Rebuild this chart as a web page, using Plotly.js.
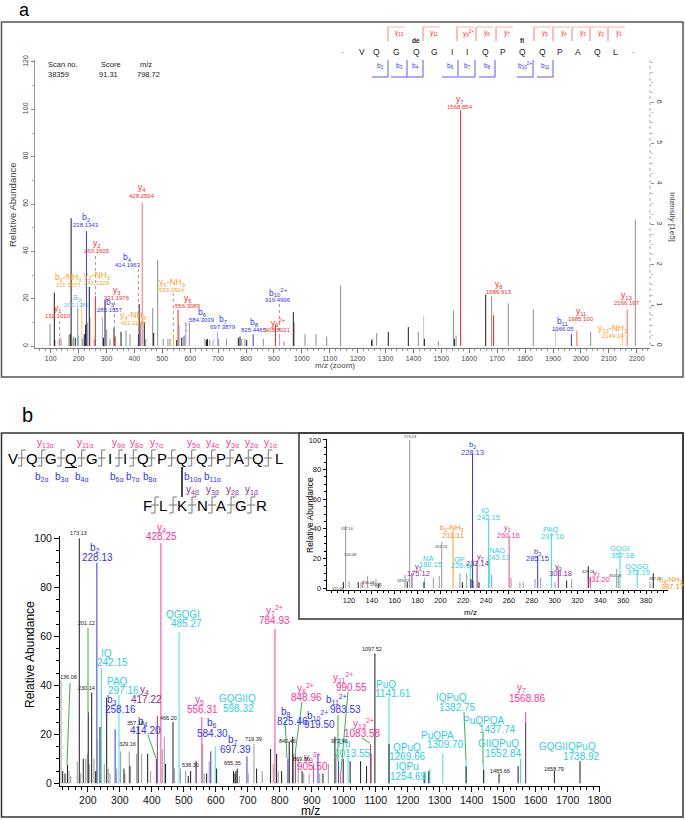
<!DOCTYPE html>
<html><head><meta charset="utf-8">
<script src="https://cdn.plot.ly/plotly-3.0.1.min.js"></script>
<style>html,body{margin:0;padding:0;background:#fff}#chart{width:685px;height:820px}</style>
</head><body><div id="chart"></div>
<script>
const W=685,H=820;
// ---------- panel a data ----------
const aMz=[97.5,112.9,114.5,130.8,133.5,136,139,165.6,170.2,173.13,178,181,188,196.8,200.14,211.1,214.7,220.4,225,228.13,231.2,238.3,243.13,256,260.16,285.16,289,294.6,300.7,312.5,326.9,331.2,352,369.8,384,414.2,417,422.5,428.25,435.4,440.4,465.5,469,483.4,503.5,520,527.5,539.28,551.5,556.31,559.5,569.4,575,580,584.3,596.7,653,658,662,670,680,685,697.39,702,730,772.3,778.3,784.4,796.3,802.3,825.45,861.8,905.5,919.5,936,969.3,972.5,1011.3,1050.7,1089,1139,1250,1252.5,1268,1309.8,1381.5,1417.3,1436.5,1439,1489,1543,1546.5,1552.6,1568.85,1658.7,1680,1686.9,1739.8,1829.4,1909.5,1966.05,1985.1,2035,2149.14,2166.17,2194.9];
const aInt=[9.3,22.5,2.5,3,4,3.5,2.5,5,5,54,3,4,3.5,16,4.5,20,3,5,9,48.5,10,25,12,3,21,12,3.5,19.5,7,3,7.8,4,6,6.5,5,5,17.7,10,60.5,10,3,16,5.5,36.3,3,3,3,5,2.5,15.3,9,3.5,4,4.5,10,10,3,2.5,3,2.5,2,3,6,3,3,3.5,4,3,3,2.5,5,3,9,4,2,14.3,10,5,5,4,25.5,2.5,3,5.5,6,8,6,12.8,3,2,15,3,4.5,99.6,21.7,21,13,18,15.5,7,5,6.5,6,6,15.5,53.4];
const aKind=['g','k','k','y','lg','lg','lg','g','k','k','lg','g','k','g','a','nl','g','k','k','b','g','k','nl','g','y','bl','k','k','g','g','k','y','k','g','g','b','k','g','yl','k','g','g','k','g','g','g','g','n','k','y','g','k','g','g','bl','g','g','k','k','g','lg','lg','bl','g','g','k','k','g','g','k','b','g','y','bl','g','k','g','g','g','g','g','k','g','g','k','k','g','lg','k','g','g','k','g','y','k','g','y','g','g','lg','b','yl','g','nl','yl','g'];
const seqA="-VQGQGIIQPQQPAQL-";
const yIonsA=['y<sub>13</sub>','y<sub>11</sub>','y<sub>9</sub><sup>2+</sup>','y<sub>8</sub>','y<sub>7</sub>','y<sub>5</sub>','y<sub>4</sub>','y<sub>3</sub>','y<sub>2</sub>','y<sub>1</sub>'];
const bIonsA=['b<sub>2</sub>','b<sub>3</sub>','b<sub>4</sub>','b<sub>6</sub>','b<sub>7</sub>','b<sub>8</sub>','b<sub>10</sub><sup>2+</sup>','b<sub>11</sub>'];
const aIonName=['y<sub>1</sub>','b<sub>2</sub>-NH<sub>3</sub>','a<sub>2</sub>','b<sub>2</sub>','y<sub>2</sub>-NH<sub>3</sub>','y<sub>2</sub>','y<sub>3</sub>','b<sub>3</sub>','b<sub>4</sub>','y<sub>4</sub>-NH<sub>3</sub>','y<sub>4</sub>','y<sub>5</sub>-NH<sub>3</sub>','y<sub>5</sub>','b<sub>6</sub>','b<sub>7</sub>','b<sub>8</sub>','b<sub>10</sub><sup>2+</sup>','y<sub>9</sub><sup>2+</sup>','y<sub>7</sub>','y<sub>8</sub>','b<sub>11</sub>','y<sub>11</sub>','y<sub>13</sub>-NH<sub>3</sub>','y<sub>13</sub>'];
const aIonMz=['132.1010','211.1077','200.1381','228.1343','243.1329','260.1605','331.1976','285.1557','414.1963','411.2238','428.2504','539.2824','556.3089','584.3039','697.3879','825.4465','919.4996','905.5021','1568.854','1686.913','1966.05','1985.100','2149.14','2166.167'];
const aIonType=['y','n','a','b','n','y','y','b','b','n','y','n','y','b','b','b','b','y','y','y','b','y','n','y'];
// ---------- panel b main data ----------
const bMz=[116,121.2,128.4,136.08,141,146.3,166.9,173.13,177.5,185.6,193.1,198.1,201.12,204.4,211.9,219.1,224.4,228.13,230.6,237.8,242.15,251.3,258.8,263.8,269.1,285.16,290,297.16,302.4,312.8,316,329.16,331.6,352.5,357.18,368.2,387,396.3,414.2,417.22,428.25,432.6,439,443,466.2,471,485.27,490,505.7,514,521.3,538.3,556.31,559,563.5,571.4,579.5,584.3,598.32,602.6,655.35,660,663,667,673.3,697.39,701.4,719.39,727.6,745.2,771.3,779.6,784.93,790.2,795.3,805.8,825.46,829.6,840.46,843,848.96,857.7,869.86,875,892,905.5,919.5,925,935,952,972.46,976,983.53,990.55,998.4,1013.55,1020,1052.8,1071.5,1083.58,1087,1097.52,1141.61,1141.6,1251.6,1254.69,1266,1269.66,1309.7,1382.75,1382.7,1437.74,1437.7,1485.66,1545.4,1552.84,1568.86,1568.8,1658.79,1738.92];
const bInt=[42,5,4,7.5,5,3,9,100,4,10,10,12,29,8,37,10,5,90,18,23,47,8,35,6,4,22,6,36,13,6,4,13,7,12,23,12,12,5,10,27.5,98,14,19,8,25,6,61.6,6,5,3,5,9,27,16,4,4,9,13,15,6,5,4,5,6,3,11,4,16,6,5,14,8,63,12,5,5,10,17,19,12,12,10,5,4,4,8,12,4,4,8,19,12,9,5,10,11,9,9,7,16,12,53,35,16,4,5,5,6,12,9.5,6.8,7.5,5.5,4,7,10,29,24.6,5,9];
const bKind=['g','k','k','k','g','g','g','k','g','k','g','g','k','g','k','g','k','b','g','k','c','g','k','g','g','b','g','c','g','k','g','g','k','g','k','g','k','g','b','u','p','g','g','k','k','g','c','g','g','k','k','k','p','g','g','k','g','b','c','k','k','k','k','k','g','b','g','g','k','g','k','g','p','k','g','k','b','k','k','g','r','g','k','g','g','p','b','g','k','g','k','g','b','p','k','c','k','k','k','r','g','k','c','k','k','c','k','c','c','c','k','c','k','k','k','c','p','d','k','k'];
// ---------- panel b inset data ----------
const iMz=[115.08,117.1,120.08,128.1,130.5,132.1,136.3,143.6,145.6,147.1,169,171,173.13,175.12,185.6,186.15,193.8,199,201.13,211.11,217.1,219.2,223,226.12,226.8,228.13,229,232.14,233.8,242.15,243.13,244.9,260.16,261.8,269.6,272.5,282.8,285.15,287.8,297.16,300.3,303.18,310.5,314.9,329.4,331.2,354.3,355.7,357.18,372.19,383.4,386.3,397.17];
const iInt=[4,42,4.7,4,4,4.7,8,6,3,3.6,9,4,100,10,4,7,7,8,31,39,10,4,10,16,6,91,5,18.5,4,47,19,9,35,7,4,4,6,22,7,37,4,13,5,6,14.7,7,13,8,24,13,4,10,4];
const iKind=['k','g','g','k','g','p','g','g','k','g','g','k','g','u','k','c','g','g','g','o','g','k','g','c','k','b','g','u','k','c','c','g','p','g','g','g','g','b','g','c','g','u','k','g','k','p','g','g','c','c','g','k','ol'];
const seqB1="VQGQGIIQPQQPAQL", seqB2="FLKNAGR";

// ---------- helpers ----------
const FA='Liberation Sans, Arial, sans-serif';
const PX=x=>x/W, PY=y=>1-y/H;
const colA={k:'#1a1a1a',g:'#8c8c8c',lg:'#c6c6c6',y:'#ff2020',yl:'#ff9c9c',b:'#3a3aff',bl:'#a0a0ff',n:'#ffa31a',nl:'#ffc870',a:'#7cc2f2'};
const colB={k:'#1a1a1a',g:'#9a9a9a',d:'#555555',b:'#3333ff',p:'#ff3d9e',c:'#3ee0e6',u:'#8e3a8e',r:'#d0306e',o:'#ff9933',ol:'#ffc27a'};
const labA={y:'#ff2a2a',b:'#3333ff',n:'#ff9e1a',a:'#6fb8ea'};
function sticks(mz,inten,kinds,kind,color,xa,ya,w){
  const xs=[],ys=[];
  mz.forEach((m,i)=>{if(kinds[i]===kind){xs.push(m,m,null);ys.push(0,inten[i],null);}});
  return {type:'scatter',mode:'lines',x:xs,y:ys,xaxis:xa,yaxis:ya,line:{color:color,width:w||1},hoverinfo:'skip',showlegend:false};
}
const order=['a','n','nl','y','yl','b','bl','c','p','r','u','o','ol','lg','g','d','k'];
const traces=[];
order.forEach(k=>{
  if(colA[k]&&aKind.includes(k)) traces.push(sticks(aMz,aInt,aKind,k,colA[k],'x','y',k==='yl'?1.6:1));
  if(colB[k]&&bKind.includes(k)) traces.push(sticks(bMz,bInt,bKind,k,colB[k],'x3','y3',1));
  if(colB[k]&&iKind.includes(k)) traces.push(sticks(iMz,iInt,iKind,k,colB[k],'x4','y4',1));
});
traces.push({type:'scatter',mode:'lines',x:[1000,1000],y:[0,0],xaxis:'x',yaxis:'y2',line:{width:0},hoverinfo:'skip',showlegend:false});

const ann=[], shp=[];
function T(text,x,y,size,color,ex){ann.push(Object.assign({text:text,x:PX(x),y:PY(y),xref:'paper',yref:'paper',showarrow:false,xanchor:'center',yanchor:'middle',borderpad:0,font:{size:size,color:color||'#000',family:FA}},ex||{}));}
function L(x0,y0,x1,y1,color,w,dash){shp.push({type:'line',xref:'paper',yref:'paper',x0:PX(x0),y0:PY(y0),x1:PX(x1),y1:PY(y1),line:{color:color,width:w||1,dash:dash||'solid'}});}
function R(x0,y0,x1,y1,color,w){shp.push({type:'rect',xref:'paper',yref:'paper',x0:PX(x0),y0:PY(y0),x1:PX(x1),y1:PY(y1),line:{color:color,width:w||1},fillcolor:'rgba(0,0,0,0)'});}

// ---------- panel a texts ----------
T('a',24,10,18,'#000');
R(1.5,22,683,377,'#555',1.5);
T('Scan no.',47,65,7.5,'#222',{xanchor:'left'}); T('38359',47,75,7.5,'#222',{xanchor:'left'});
T('Score',111,65,7.5,'#222'); T('91.31',108,75,7.5,'#222');
T('m/z',146,65,7.5,'#222'); T('798.72',148,75,7.5,'#222');
T('Relative Abundance',12,205,9.5,'#444',{textangle:-90});
T('m/z (zoom)',335,366,8,'#444');
T('Intensity [1e5]',673,217,8,'#444',{textangle:90});
L(650,60,650,347,'#aaa',1,'dot');
const seqAx=[343,362,376,396,416,434,452,467,485,503,522,542,560,578,597,615,633];
seqA.split('').forEach((c,i)=>T(c,seqAx[i],52,c==='-'?6:8.5,'#222'));
T('<b>de</b>',416,40,6.5,'#222'); T('<b>fl</b>',522,40,6.5,'#222');
const yBrX=[388,423,457,476,496,534,553,572,590,608];
yIonsA.forEach((t,i)=>{const x=yBrX[i];L(x,41,x,27,'#ff7a7a',1);L(x,27,x+17,27,'#ffb0b0',1);T(t,x+11,33,6.5,'#ff3030');});
const bBrX=[388,407,423,458,475,495,533,553];
bIonsA.forEach((t,i)=>{const x=bBrX[i];L(x,60,x,77,'#5a5aff',1);L(x-16,77,x,77,'#5a5aff',1);T(t,x-8,66,6.5,'#3333ff');});
const aLabPos=[[58,308],[68,277],[77,297],[86,217],[97,275],[97,243],[117,290],[110,302],[128,257],[133,315],[142,188],[172,282],[188,298],[202,312],[223,319],[254,322],[278,292],[278,322],[460,99],[499,284],[563,321],[581,311],[613,328],[627,295]];
aIonName.forEach((t,i)=>{const p=aLabPos[i],c=labA[aIonType[i]];T(t,p[0],p[1],8.5,c);T(aIonMz[i],p[0],p[1]+8,6,c);});
[[59.7,321,59.7,339],[95.4,256,95.4,296],[138.4,269,138.4,333],[173.3,293,173.3,333],[185.8,323,185.8,335],[279.4,304,279.4,337],[114.5,302,114.5,336]].forEach(s=>L(s[0],s[1],s[2],s[3],'#9a9a9a',1,'dot'));

// ---------- panel b main texts ----------
T('b',27,415,20,'#000');
R(1.5,433,683,817,'#333',1.5);
R(299,433,683,619,'#333',1.5);
T('Relative Abundance',30,655,12,'#000',{textangle:-90});
T('m/z',310,811,12,'#000');
const CB='#3333ff',CP='#ff3399',CC='#2fd0dc',CU='#8b2d8b',CO='#ff8c1a';
const bLab=[
['b<sub>2</sub>','228.13',CB,95,548,97,557],['y<sub>4</sub>','428.25',CP,161,528,161,536],
['QGQGI','485.27',CC,183,614,187,623],['IQ','242.15',CC,106,653,112,662],['PAQ','297.16',CC,117,681,123,690],
['b<sub>3</sub>','258.16',CB,112,700,120,709],['y<sub>4</sub>','417.22',CU,144,690,146,699],['b<sub>4</sub>','414.20',CB,143,722,145,730],
['y<sub>5</sub>','556.31',CP,200,700,202,709],['GQGIIQ','598.32',CC,237,698,239,708],['b<sub>6</sub>','584.30',CB,212,723,213,733],
['b<sub>7</sub>','697.39',CB,233,740,235,749],['y<sub>7</sub><sup>2+</sup>','784.93',CP,274,610,274,620],['y<sub>8</sub><sup>2+</sup>','848.96',CP,305,688,306,697],
['b<sub>8</sub>','825.46',CB,286,712,292,721],['b<sub>10</sub><sup>2+</sup>','919.50',CB,317,715,319,724],['y<sub>9</sub><sup>2+</sup>','905.50',CP,312,757,312,766],
['y<sub>11</sub><sup>2+</sup>','990.55',CP,343,677,351,687],['b<sub>11</sub><sup>2+</sup>','983.53',CB,336,699,345,709],['y<sub>13</sub><sup>2+</sup>','1083.58',CP,363,723,362,733],
['Pu','1013.55',CC,344,743,353,753],['PuQ','1141.61',CC,386,684,393,693],['QPuQ','1269.66',CC,407,747,407,756],['IQPu','1254.69',CC,407,766,408,776],
['PuQPA','1309.70',CC,437,735,445,744],['IQPuQ','1382.75',CC,452,697,457,707],['PuQPQA','1437.74',CC,483,720,497,729],['GIIQPuQ','1552.84',CC,499,743,503,753],
['y<sub>7</sub>','1568.86',CP,521,688,527,698],['GQGIIQPuQ','1738.92',CC,567,746,581,756]];
bLab.forEach(r=>{T(r[0],r[3],r[4],10,r[2]);T(r[1],r[5],r[6],10,r[2]);});
const bSmall=[['173.13',78,533],['201.12',87,623],['136.08',68,677],['230.14',87,688],['357.18',135,723],['329.16',128,744],['466.20',168,718],['538.30',190,765],['655.35',232,763],['719.39',253,739],['840.46',287,741],['869.86',301,759],['972.46',339,741],['1097.52',372,649],['1485.66',500,771],['1658.79',554,769]];
bSmall.forEach(r=>T(r[0],r[1],r[2],5.5,'#222'));
const G='#3cb043';
[[70,683,67,765],[88,628,88,712],[148,735,156,758],[302,702,295,754],[338,715,338,761],[348,692,341,771],[362,738,370,743],[464,712,466,760],[483,733,483,765],[285,720,287,758]].forEach(s=>L(s[0],s[1],s[2],s[3],G,1));

// sequence b
const sB1x=[13,32,51,71,92,110,125,143,162,182,202,221,239,258,279];
const sepB1=[21.7,41.7,61,81.7,101.7,119,133.3,151.7,171.7,191.7,211.7,230,248.3,268.3];
seqB1.split('').forEach((c,i)=>T(c,sB1x[i],458,15,'#000'));
function sep(x,y){const c='#777';L(x,y-8,x,y+8,c,1);L(x,y-8,x+4,y-8,c,1);L(x-4,y+8,x,y+8,c,1);L(x-4,y,x+4,y,c,1);}
sepB1.forEach(x=>sep(x,458));
L(65,467.5,77,467.5,'#000',1);
const yB=['y<sub>13α</sub>','y<sub>11α</sub>','y<sub>9α</sub>','y<sub>8α</sub>','y<sub>7α</sub>','y<sub>5α</sub>','y<sub>4α</sub>','y<sub>3α</sub>','y<sub>2α</sub>','y<sub>1α</sub>'];
[45,85,118,136,156,193,213,232,251,270].forEach((x,i)=>T(yB[i],x,443,10,CP));
const bB=['b<sub>2α</sub>','b<sub>3α</sub>','b<sub>4α</sub>','b<sub>6α</sub>','b<sub>7α</sub>','b<sub>8α</sub>','b<sub>10α</sub>','b<sub>11α</sub>'];
[42,62,82,117,133,150,192,212].forEach((x,i)=>T(bB[i],x,477,10,CB));
L(182,467,182,497,'#444',2);
const sB2x=[147,163,182,202,221,241,261];
seqB2.split('').forEach((c,i)=>T(c,sB2x[i],505,15,'#000'));
[155,173,192,212,231,251].forEach(x=>sep(x,505));
const yBb=['y<sub>4β</sub>','y<sub>3β</sub>','y<sub>2β</sub>','y<sub>1β</sub>'];
[192,213,232,252].forEach((x,i)=>T(yBb[i],x,490,10,CU));

// inset texts
T('Relative Abundance',310,515,8.5,'#000',{textangle:-90});
T('m/z',470,612,8,'#000');
const iLab=[['b<sub>2</sub>','228.13',CB,472,445,473,452],['IQ','242.15',CC,485,510,488,517],['b<sub>2</sub>-NH<sub>3</sub>','211.11',CO,452,528,453,535],
['y<sub>2</sub>','260.16',CP,507,528,508,535],['PAQ','297.16',CC,550,529,552,536],['NAG','243.13',CC,497,550,498,557],['b<sub>3</sub>','285.15',CB,537,552,537,558],
['NA','186.15',CC,428,558,430,564],['QP','226.12',CC,459,559,462,565],['y<sub>2</sub>','232.14',CU,480,557,478,563],['y<sub>1</sub>','175.12',CU,418,567,418,573],
['GQGI','357.18',CC,620,548,622,555],['y<sub>3</sub>','303.18',CU,558,567,560,573],['y<sub>3</sub>','331.20',CP,596,573,598,579],['GQGQ','372.19',CC,637,566,638,572],
['b<sub>4</sub>-NH<sub>3</sub>','397.17',CO,670,580,672,586]];
iLab.forEach(r=>{T(r[0],r[3],r[4],7.5,r[2]);T(r[1],r[5],r[6],7.5,r[2]);});
[['173.13',410,436],['117.10',347,528],['201.13',441,546],['115.08',338,588],['120.08',350,554],['136.08',368,582],['143.11',376,584],['169.12',403,580],['329.16',588,571],['354.18',615,575],['387.22',655,578]].forEach(r=>T(r[0],r[1],r[2],4,'#333'));

const ax=(o)=>Object.assign({showgrid:false,zeroline:false,automargin:false,showline:true,ticks:'outside'},o);
const layout={
  width:W,height:H,margin:{l:0,r:0,t:0,b:0},paper_bgcolor:'#fff',plot_bgcolor:'rgba(0,0,0,0)',showlegend:false,
  xaxis:ax({domain:[PX(35),PX(650)],range:[43.7,2247.5],anchor:'y',tick0:0,dtick:100,ticklen:4,tickcolor:'#777',linecolor:'#777',tickfont:{size:7,color:'#444',family:FA},minor:{dtick:20,ticks:'outside',ticklen:2,tickcolor:'#999'}}),
  yaxis:ax({domain:[PY(347.9),PY(60.1)],range:[-0.8,120.8],anchor:'x',tick0:0,dtick:20,tickangle:-90,ticklen:3,tickcolor:'#888',linecolor:'#999',tickfont:{size:7,color:'#444',family:FA},minor:{dtick:10,ticks:'outside',ticklen:2,tickcolor:'#aaa'}}),
  yaxis2:ax({overlaying:'y',side:'right',anchor:'x',range:[-0.054,7.05],tickmode:'array',tickvals:[0,1,2,3,4,5,6],showline:false,tickangle:90,ticklen:3,tickcolor:'#888',tickfont:{size:7,color:'#444',family:FA},minor:{tickmode:'linear',tick0:0,dtick:0.25,ticks:'outside',ticklen:1.5,tickcolor:'#bbb'}}),
  xaxis3:ax({domain:[PX(60),PX(599.7)],range:[112.8,1800.5],anchor:'y3',tick0:0,dtick:100,ticklen:5,tickcolor:'#000',linecolor:'#000',tickfont:{size:10.5,color:'#111',family:FA},minor:{dtick:20,ticks:'outside',ticklen:3,tickcolor:'#000'}}),
  yaxis3:ax({domain:[PY(785.75),PY(535.85)],range:[-1,101],anchor:'x3',tick0:0,dtick:20,ticklen:5,tickcolor:'#000',linecolor:'#000',tickfont:{size:10.5,color:'#111',family:FA},minor:{dtick:5,ticks:'outside',ticklen:3,tickcolor:'#000'}}),
  xaxis4:ax({domain:[PX(326.7),PX(668)],range:[100.5,399.2],anchor:'y4',tick0:0,dtick:20,ticklen:3,tickcolor:'#000',linecolor:'#000',tickfont:{size:7.5,color:'#111',family:FA},minor:{dtick:5,ticks:'outside',ticklen:2,tickcolor:'#000'}}),
  yaxis4:ax({domain:[PY(589.5),PY(438.5)],range:[-1,101],anchor:'x4',tick0:0,dtick:20,ticklen:3,tickcolor:'#000',linecolor:'#000',tickfont:{size:7.5,color:'#111',family:FA},minor:{dtick:5,ticks:'outside',ticklen:2,tickcolor:'#000'}}),
  annotations:ann,shapes:shp
};
Plotly.newPlot('chart',traces,layout,{staticPlot:true,displayModeBar:false});
</script></body></html>
